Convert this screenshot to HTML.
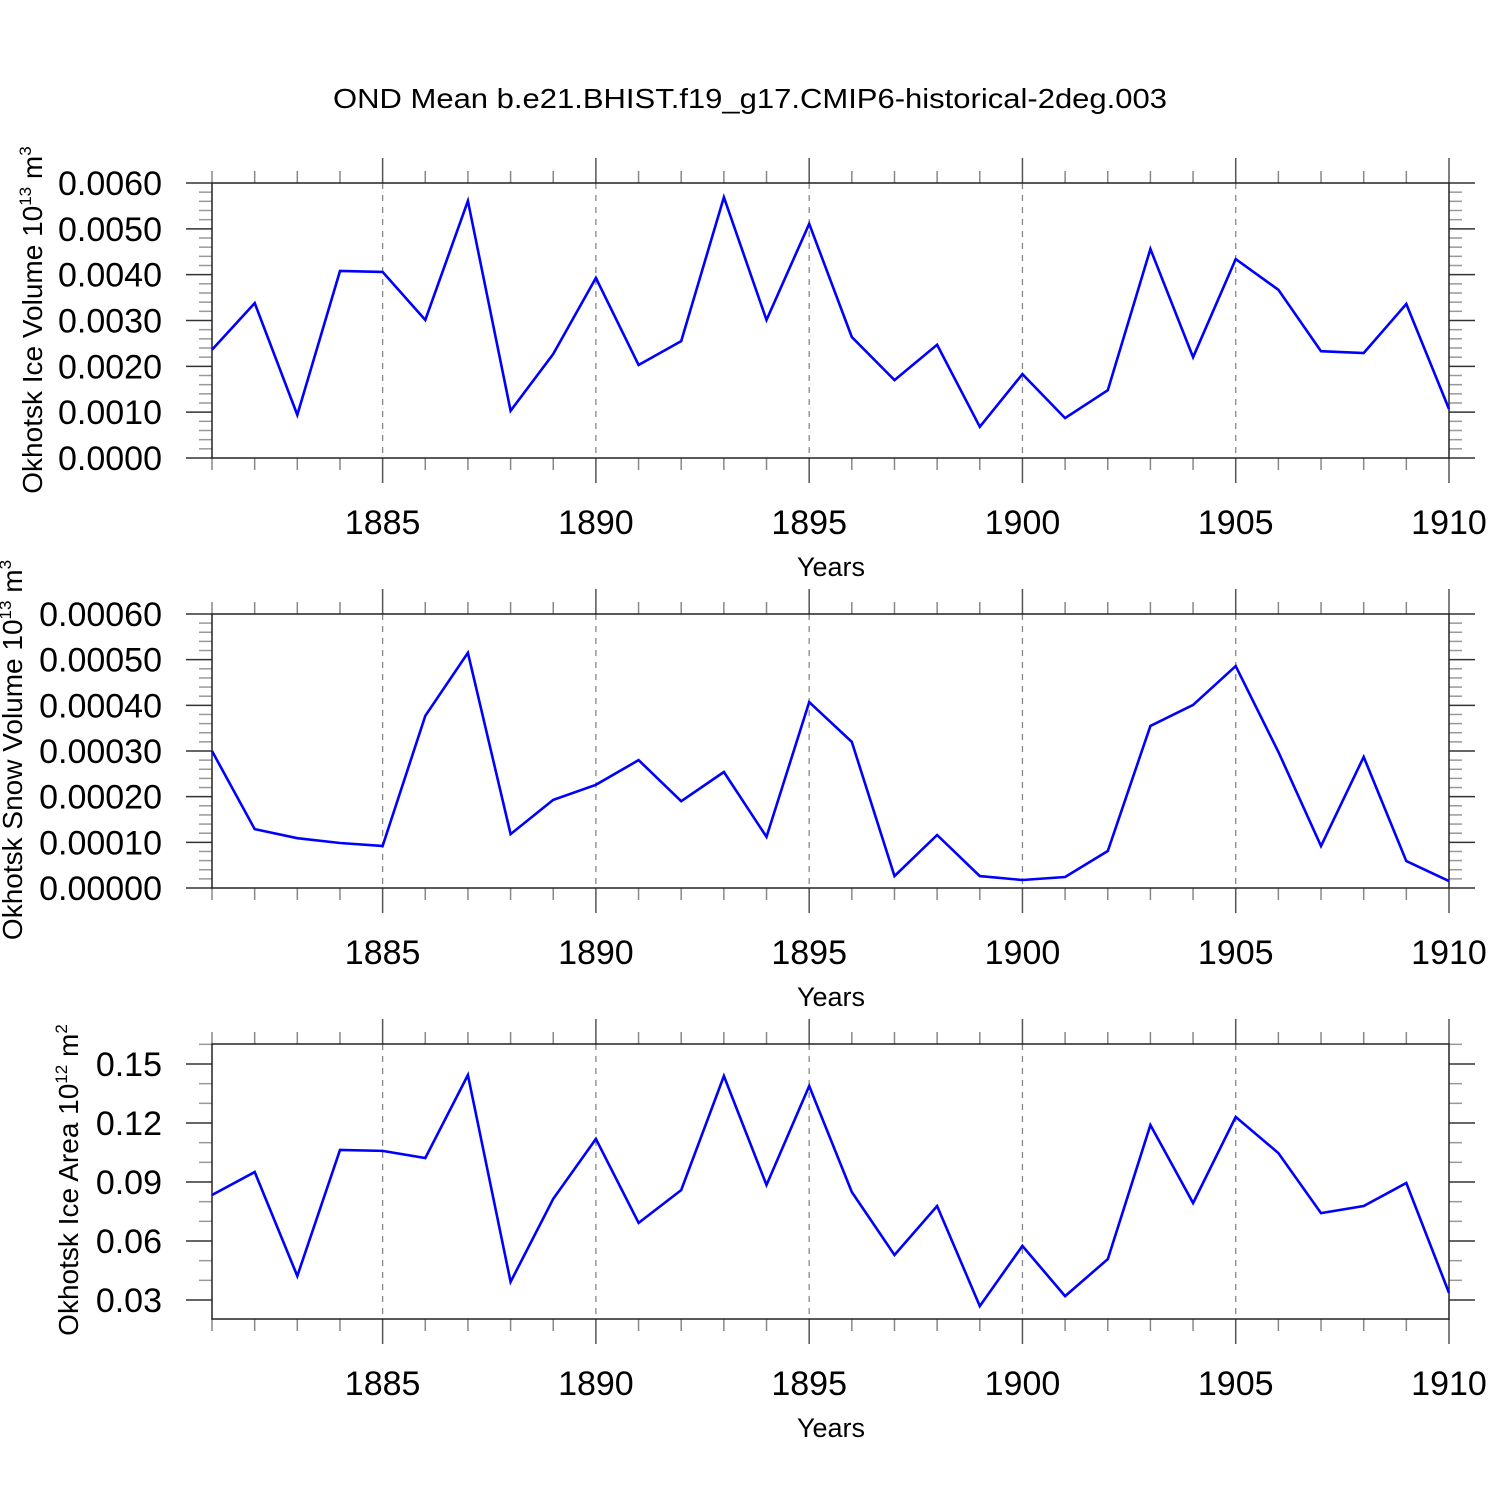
<!DOCTYPE html>
<html><head><meta charset="utf-8"><style>
html,body{margin:0;padding:0;background:#fff;}
svg{display:block;font-family:"Liberation Sans",Arial,sans-serif;}
</style></head><body>
<svg id="chart" width="1500" height="1500" viewBox="0 0 1500 1500" xmlns="http://www.w3.org/2000/svg">
<rect width="1500" height="1500" fill="#fff"/>
<text x="750" y="108" font-size="28" text-anchor="middle" textLength="834" lengthAdjust="spacingAndGlyphs">OND Mean b.e21.BHIST.f19_g17.CMIP6-historical-2deg.003</text>
</svg>
<script>
const years = [1881,1882,1883,1884,1885,1886,1887,1888,1889,1890,1891,1892,1893,1894,1895,1896,1897,1898,1899,1900,1901,1902,1903,1904,1905,1906,1907,1908,1909,1910];
const iceVolume = [0.00236,0.00338,0.00094,0.00408,0.00406,0.00301,0.00561,0.00103,0.00227,0.00393,0.00203,0.00255,0.00569,0.00301,0.00511,0.00264,0.00170,0.00247,0.00068,0.00183,0.00087,0.00148,0.00456,0.00220,0.00434,0.00367,0.00233,0.00229,0.00336,0.00107];
const snowVolume = [0.000300,0.000129,0.000109,0.0000985,0.000092,0.000377,0.000515,0.000118,0.000193,0.000226,0.000280,0.000190,0.000254,0.000112,0.000407,0.000320,0.000026,0.000116,0.000026,0.0000175,0.000024,0.000081,0.000355,0.000401,0.000486,0.000298,0.000092,0.000287,0.000059,0.000015];
const iceArea = [0.0834,0.0951,0.0422,0.1063,0.1058,0.1022,0.1444,0.0392,0.0814,0.1119,0.0692,0.0859,0.1439,0.0885,0.1388,0.0849,0.0529,0.0778,0.0269,0.0575,0.0320,0.0508,0.1190,0.0793,0.1231,0.1047,0.0742,0.0778,0.0895,0.0336];
const xMajorTicks = [1885,1890,1895,1900,1905,1910];
const iceVolumeTicks = ["0.0000","0.0010","0.0020","0.0030","0.0040","0.0050","0.0060"];
const snowVolumeTicks = ["0.00000","0.00010","0.00020","0.00030","0.00040","0.00050","0.00060"];
const iceAreaTicks = ["0.03","0.06","0.09","0.12","0.15"];

const NS="http://www.w3.org/2000/svg";
const svg=document.getElementById('chart');
const X0=212,X1=1449;
function xs(v){return X0+(v-1881)/(1910-1881)*(X1-X0);}
function mk(tag,attrs,parent){const e=document.createElementNS(NS,tag);for(const k in attrs)e.setAttribute(k,attrs[k]);(parent||svg).appendChild(e);return e;}

const panels=[
 {name:'ice-volume',top:183,bot:458,ymin:0,ymax:0.006,minor:0.0002,ticks:iceVolumeTicks,data:iceVolume,titleX:32,titleY:320,title:['Okhotsk Ice Volume 10','13',' m','3']},
 {name:'snow-volume',top:614,bot:888,ymin:0,ymax:0.0006,minor:0.00002,ticks:snowVolumeTicks,data:snowVolume,titleX:12,titleY:750,title:['Okhotsk Snow Volume 10','13',' m','3']},
 {name:'ice-area',top:1044,bot:1319,ymin:0,ymax:0,minor:0.01,ticks:iceAreaTicks,data:iceArea,titleX:68,titleY:1180,title:['Okhotsk Ice Area 10','12',' m','2']}
];
panels[2].ymin=0.03-(1319-1300)/(236)*0.12;
panels[2].ymax=0.15+(1064-1044)/(236)*0.12;

panels.forEach(p=>{
 const g=mk('g',{});
 
 
 const ys=v=>p.bot-(v-p.ymin)/(p.ymax-p.ymin)*(p.bot-p.top);
 xMajorTicks.forEach(yr=>{
  if(yr===1910)return;
  const l=mk('line',{x1:xs(yr),x2:xs(yr),y1:p.top,y2:p.bot,stroke:'#888','stroke-width':1.3,'stroke-dasharray':'6,6'},g);
  
  
 });
 years.forEach(yr=>{
  const major=xMajorTicks.includes(yr);
  const len=major?25:12;
  mk('line',{x1:xs(yr),x2:xs(yr),y1:p.top-len,y2:p.top,stroke:major?'#555':'#888','stroke-width':1.5},g);
  mk('line',{x1:xs(yr),x2:xs(yr),y1:p.bot,y2:p.bot+len,stroke:major?'#555':'#888','stroke-width':1.5},g);
 });
 const majVals=p.ticks.map(Number);
 const start=Math.ceil(p.ymin/p.minor-1e-6), end=Math.floor(p.ymax/p.minor+1e-6);
 for(let i=start;i<=end;i++){
  const v=i*p.minor;
  const major=majVals.some(m=>Math.abs(m-v)<p.minor*0.01);
  const len=major?26:13;
  const y=ys(v);
  mk('line',{x1:X0-len,x2:X0,y1:y,y2:y,stroke:major?'#333':'#999','stroke-width':1.5},g);
  mk('line',{x1:X1,x2:X1+len,y1:y,y2:y,stroke:major?'#333':'#999','stroke-width':1.5},g);
 }
 const fr=mk('rect',{x:X0,y:p.top,width:X1-X0,height:p.bot-p.top,fill:'none',stroke:'#222','stroke-width':1.5},g);
 
 
 p.ticks.forEach(t=>{
  const tx=mk('text',{x:162,y:ys(Number(t))+12,'font-size':34,'text-anchor':'end'},g);
  tx.textContent=t;
  
  
 });
 xMajorTicks.forEach(yr=>{
  const tx=mk('text',{x:xs(yr),y:p.bot+76,'font-size':34,'text-anchor':'middle'},g);
  tx.textContent=yr;
  
  
 });
 const xt=mk('text',{x:831,y:p.bot+118,'font-size':27,'text-anchor':'middle'},g);
 xt.textContent='Years';
 
 
 const yt=mk('text',{x:0,y:0,'font-size':28,'text-anchor':'middle',transform:`translate(${p.titleX+10},${p.titleY}) rotate(-90)`},g);
 
 
 const t1=mk('tspan',{},yt);t1.textContent=p.title[0];
 const t2=mk('tspan',{dy:-11,'font-size':17},yt);t2.textContent=p.title[1];
 const t3=mk('tspan',{dy:11},yt);t3.textContent=p.title[2];
 const t4=mk('tspan',{dy:-11,'font-size':17},yt);t4.textContent=p.title[3];
 const pts=p.data.map((v,i)=>xs(years[i]).toFixed(1)+','+ys(v).toFixed(1)).join(' ');
 const pl=mk('polyline',{points:pts,fill:'none',stroke:'#0000ff','stroke-width':2.6,'stroke-linejoin':'miter'},g);
 
 
});
</script>
</body></html>
